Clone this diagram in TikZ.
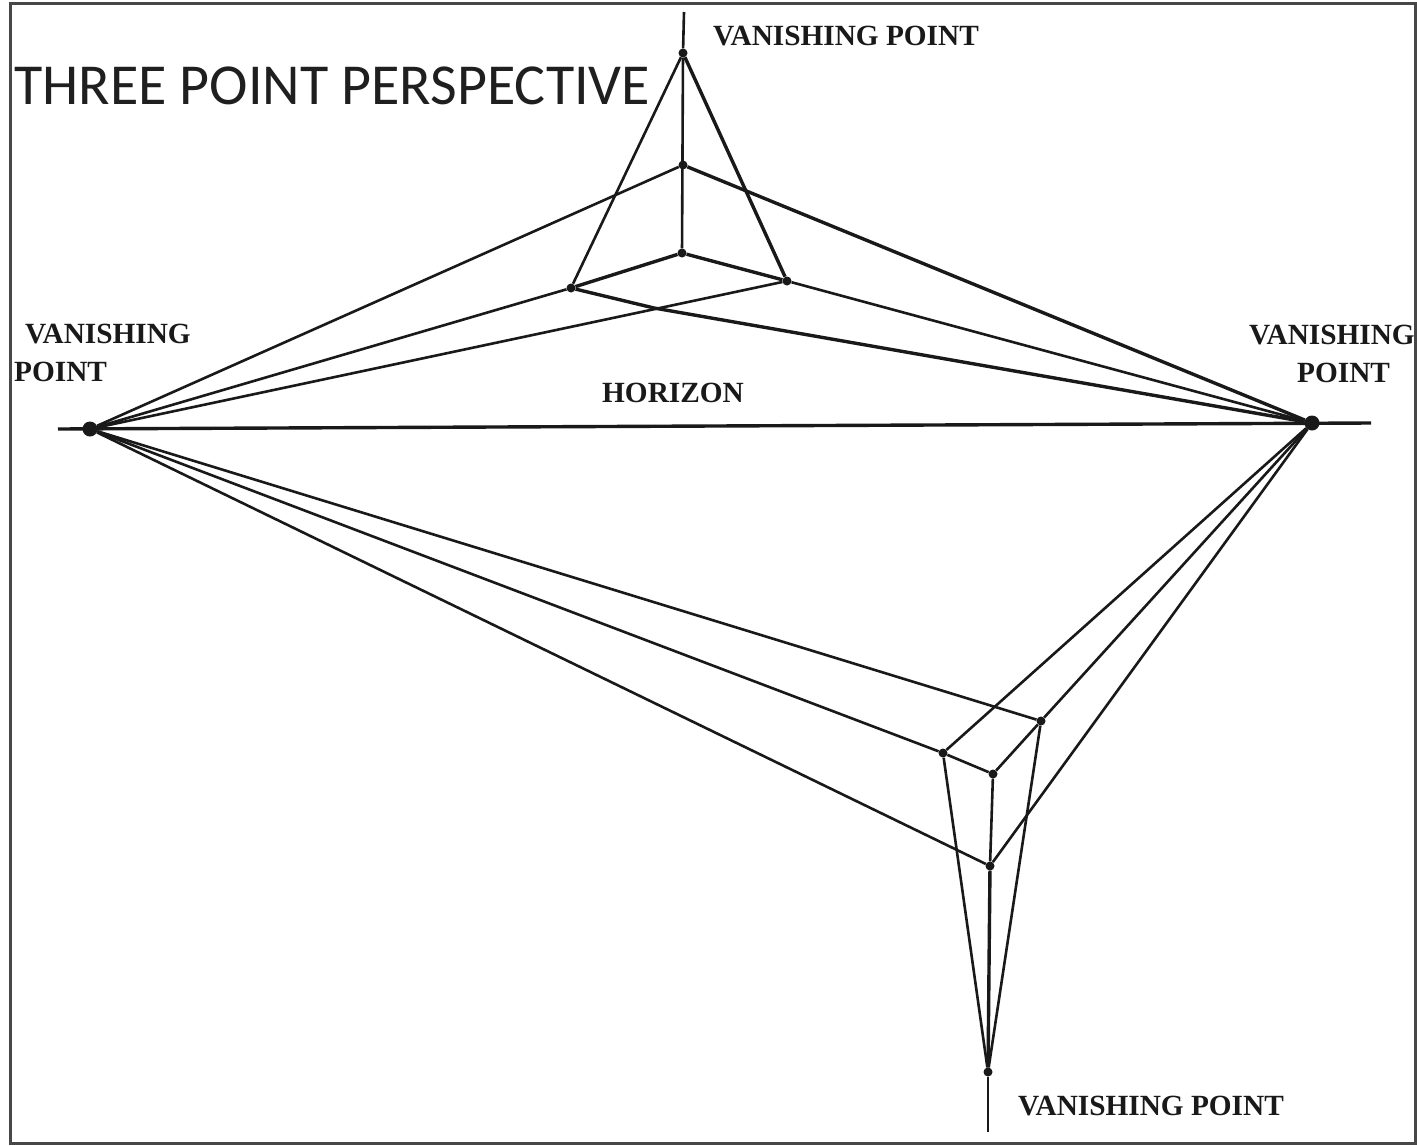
\documentclass[tikz,border=0pt]{standalone}
\usepackage{fontspec}
\setmainfont{Liberation Serif}
\newfontfamily\titlefont{Carlito}
\tikzset{
  px/.style={x=1pt,y=-1pt},
  ln/.style={draw=black!90,line width=2.6pt},
  hv/.style={draw=black!90,line width=3.4pt},
  lab/.style={font=\bfseries\fontsize{29.3}{38}\selectfont,text=black!90,inner sep=0pt,align=left},
  dotn/.style={circle,fill=black!90,inner sep=0pt,minimum size=9pt},
  bigdot/.style={circle,fill=black!90,inner sep=0pt,minimum size=15pt},
}
\begin{document}
\begin{tikzpicture}[px]
\useasboundingbox (0,0) rectangle (1417,1146);
\fill[white] (0,0) rectangle (1417,1146);
\draw[draw=black!72,line width=3pt] (10,3) rectangle (1415,1143);
% vanishing points
\node[bigdot] (L) at (90,429) {};
\node[bigdot] (R) at (1312,423) {};
\node[dotn] (T) at (683,53) {};
\node[dotn] (B) at (988,1072) {};
% top cube
\node[dotn] (a) at (683,165) {};
\node[dotn] (b) at (682,253) {};
\node[dotn] (c) at (571,288) {};
\node[dotn] (d) at (787,281) {};
\coordinate (e) at (654,308);
% bottom cube
\node[dotn] (f) at (943,753) {};
\node[dotn] (g) at (1041,721) {};
\node[dotn] (h) at (993,774) {};
\node[dotn] (i) at (990,866) {};
% axis ends
\coordinate (ht) at (684,12);
\coordinate (hb) at (988,1132);
\coordinate (hl) at (58,429);
\coordinate (hr) at (1371,423);
% axes
\draw[hv] (hl) -- (hr);
\draw[ln] (ht) -- (T);
\draw[ln] (T) -- (b);
\draw[ln] (i) -- (h);
\draw[hv] (i) -- (B);
\draw[ln] (B) -- (hb);
% to top VP
\draw[ln] (T) -- (c);
\draw[hv] (T) -- (d);
% top cube to L, R
\draw[ln] (L) -- (a);
\draw[ln] (L) -- (c);
\draw[ln] (L) -- (d);
\draw[hv] (a) -- (R);
\draw[ln] (d) -- (R);
\draw[hv] (c) -- (e) -- (R);
\draw[hv] (c) -- (b) -- (d);
% bottom cube
\draw[ln] (L) -- (g);
\draw[ln] (L) -- (f);
\draw[ln] (L) -- (i);
\draw[ln] (R) -- (f);
\draw[ln] (R) -- (g);
\draw[ln] (g) -- (h);
\draw[ln] (R) -- (i);
\draw[ln] (f) -- (h);
\draw[ln] (f) -- (B);
\draw[ln] (g) -- (B);
% labels
\node[font=\titlefont\fontsize{58}{58}\selectfont,text=black!88,anchor=west,inner sep=0pt] (title) at (14,86) {THREE POINT PERSPECTIVE};
\node[lab,anchor=west] (l1) at (713,36) {VANISHING POINT};
\node[lab,anchor=west] (l2) at (14,353) {\hspace*{11pt}VANISHING\\POINT};
\node[lab,anchor=west] (l3) at (1249,354) {VANISHING\\\hspace*{48pt}POINT};
\node[lab] (l4) at (673,393) {HORIZON};
\node[lab,anchor=west] (l5) at (1018,1106) {VANISHING POINT};
\end{tikzpicture}
\end{document}
